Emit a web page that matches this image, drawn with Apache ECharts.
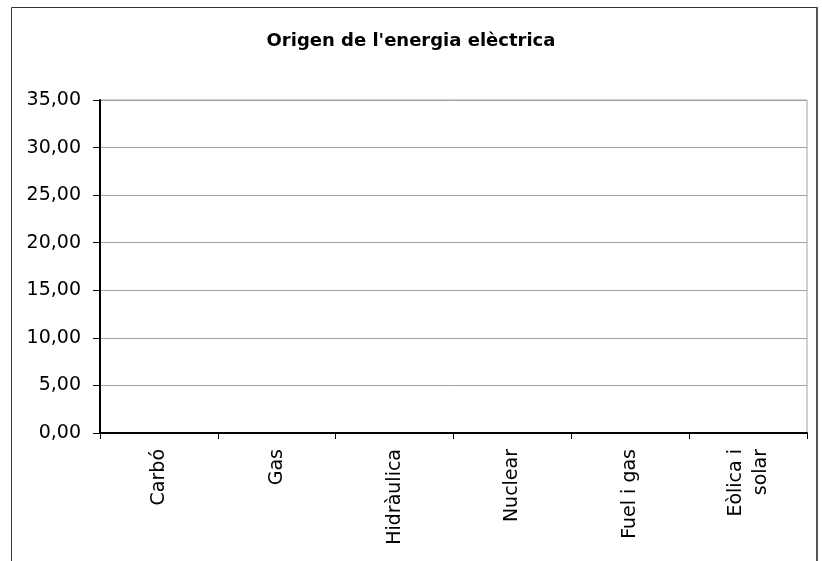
<!doctype html>
<html lang="ca">
<head>
    <meta charset="UTF-8">
    <title>Origen de l'energia elèctrica</title>
    <script src="https://cdn.jsdelivr.net/npm/echarts@6/dist/echarts.min.js"></script>
    <style>
        html, body { margin: 0; padding: 0; background: #fff; }
    </style>
</head>
<body>
    <div id="main" style="width: 822px;height:561px;"></div>
    <script>
        // fonts d'energia (eix x) i valors (el gràfic original no té barres)
        var fonts = ['Carbó', 'Gas', 'Hidràulica', 'Nuclear', 'Fuel i gas', 'Eòlica i\nsolar'];
        var valors = [0, 0, 0, 0, 0, 0];
        var yMin = 0, yMax = 35, yPas = 5;

        var lletra = 'DejaVu Sans, Liberation Sans, Arial, sans-serif';

        var myChart = echarts.init(document.getElementById('main'));
        myChart.setOption({
            backgroundColor: '#fff',
            animation: false,
            textStyle: { fontFamily: lletra },
            title: {
                text: "Origen de l'energia elèctrica",
                left: 'center',
                top: 27,
                textStyle: { color: '#000', fontSize: 18, fontWeight: 'bold', fontFamily: lletra }
            },
            graphic: [
                {   // marc exterior
                    type: 'rect',
                    shape: { x: 11.5, y: 7.5, width: 805, height: 600 },
                    style: { fill: null, stroke: '#333', lineWidth: 1 },
                    silent: true
                },
                {
                    type: 'line',
                    shape: { x1: 817, y1: 7, x2: 817, y2: 561 },
                    style: { stroke: '#555', lineWidth: 2 },
                    silent: true
                }
            ],
            grid: {
                left: 100, right: 15, top: 100, bottom: 128,
                show: true, borderColor: '#a0a0a0', borderWidth: 1,
                backgroundColor: 'transparent'
            },
            xAxis: {
                type: 'category',
                data: fonts,
                boundaryGap: true,
                axisLine: { lineStyle: { color: '#000', width: 2 } },
                axisTick: { show: true, length: 6, lineStyle: { color: '#000', width: 1 } },
                axisLabel: {
                    rotate: 90, margin: 16, color: '#000', fontSize: 19,
                    lineHeight: 25, interval: 0
                }
            },
            yAxis: {
                type: 'value',
                min: yMin, max: yMax, interval: yPas,
                axisLine: { show: true, lineStyle: { color: '#000', width: 2 } },
                axisTick: { show: true, length: 7, lineStyle: { color: '#000', width: 1 } },
                splitLine: { lineStyle: { color: '#a0a0a0', width: 1 } },
                axisLabel: {
                    margin: 19, color: '#000', fontSize: 19,
                    formatter: function (v) { return v.toFixed(2).replace('.', ','); }
                }
            },
            series: [{
                type: 'bar',
                data: valors,
                itemStyle: { color: '#9999ff' }
            }]
        });
    </script>
</body>
</html>
